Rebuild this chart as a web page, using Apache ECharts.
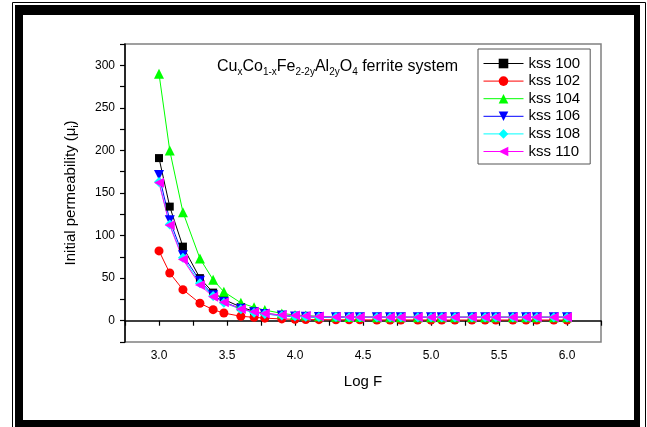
<!DOCTYPE html>
<html><head><meta charset="utf-8">
<script src="https://cdn.jsdelivr.net/npm/echarts@6/dist/echarts.min.js"></script>
<style>html,body{margin:0;padding:0;background:#fff}#c{width:647px;height:427px}</style>
</head><body><div id="c"></div>
<script>
var logF = [3.000, 3.079, 3.176, 3.301, 3.398, 3.477, 3.602, 3.699, 3.778, 3.903,
            4.000, 4.079, 4.176, 4.301, 4.398, 4.477, 4.602, 4.699, 4.778, 4.903,
            5.000, 5.079, 5.176, 5.301, 5.398, 5.477, 5.602, 5.699, 5.778, 5.903, 6.000];
var kss100 = [191, 134, 87, 50, 33, 25, 16, 11, 8.5, 6.5, 5.2, 4.8, 4.5, 4.3, 4.2, 4.1, 4.1, 4.0, 4.0, 4.0, 4.0, 4.0, 4.0, 4.0, 4.0, 4.0, 4.0, 4.0, 4.0, 4.0, 4.0];
var kss102 = [82, 56, 36.5, 20.5, 13, 9, 5.2, 4, 3, 2.1, 1.6, 1.4, 1.2, 1.1, 1.0, 1.0, 0.9, 0.9, 0.9, 0.9, 0.8, 0.8, 0.8, 0.8, 0.8, 0.8, 0.8, 0.8, 0.8, 0.8, 0.8];
var kss104 = [290, 200, 127.5, 73, 48, 34, 21, 15.7, 12.5, 8.6, 6.7, 6, 5.2, 4.6, 4.4, 4.3, 4.2, 4.1, 4.1, 4.0, 4.0, 4.0, 4.0, 4.0, 4.0, 4.0, 4.0, 4.0, 4.0, 4.0, 4.0];
var kss106 = [171, 118, 77, 47, 30, 22, 14, 10, 8, 6, 5, 4.6, 4.4, 4.2, 4.1, 4.0, 4.0, 4.0, 4.0, 4.0, 4.0, 4.0, 4.0, 4.0, 4.0, 4.0, 4.0, 4.0, 4.0, 4.0, 4.0];
var kss108 = [163, 113, 74, 44, 29, 21, 13.5, 9.5, 7.8, 6.2, 5.3, 4.8, 4.5, 4.3, 4.2, 4.1, 4.0, 4.0, 4.0, 4.0, 4.0, 4.0, 4.0, 4.0, 4.0, 4.0, 4.0, 4.0, 4.0, 4.0, 4.0];
var kss110 = [162, 112, 72, 42, 28, 21.6, 13.7, 10.6, 8.6, 6.7, 6, 5.5, 5, 4.4, 4.3, 4.2, 4.2, 4.1, 4.1, 4.1, 4.1, 4.1, 4.1, 4.1, 4.1, 4.1, 4.1, 4.1, 4.1, 4.1, 4.1];
var seriesNames = ['kss 100', 'kss 102', 'kss 104', 'kss 106', 'kss 108', 'kss 110'];
var xTickLabels = [3.0, 3.5, 4.0, 4.5, 5.0, 5.5, 6.0];
var yTickLabels = [0, 50, 100, 150, 200, 250, 300];

var allData = [kss100, kss102, kss104, kss106, kss108, kss110];
var colors = ['#000000', '#ff0000', '#00ff00', '#0000ff', '#00ffff', '#ff00ff'];
var symbols = ['rect', 'circle', 'triangle', 'triangle', 'diamond', 'triangle'];
var rotates = [0, 0, 0, 180, 0, 90];
var sizes = [8, 9, 10, 10, 10, 10];
var FONT = 'Liberation Sans, Arial, sans-serif';

function pairs(ys) { return logF.map(function (x, i) { return [x, ys[i]]; }); }

var series = allData.map(function (d, i) {
  return {
    name: seriesNames[i], type: 'line', data: pairs(d),
    symbol: symbols[i], symbolRotate: rotates[i], symbolSize: sizes[i],
    showAllSymbol: true,
    lineStyle: { color: colors[i], width: 1 },
    itemStyle: { color: colors[i] },
    emphasis: { disabled: true }, animation: false
  };
});

var chart = echarts.init(document.getElementById('c'), null, { renderer: 'canvas' });
chart.setOption({
  backgroundColor: '#ffffff',
  animation: false,
  color: colors,
  grid: { left: 125, top: 44, right: 46, bottom: 85, show: true, borderColor: '#808080', borderWidth: 1.5, backgroundColor: 'transparent' },
  xAxis: {
    type: 'value', min: 2.75, max: 6.25, interval: 0.25,
    name: 'Log F', nameLocation: 'middle', nameGap: 32,
    nameTextStyle: { fontFamily: FONT, fontSize: 15, color: '#000' },
    axisLine: { lineStyle: { color: '#000', width: 1.5 } },
    axisTick: { show: true, inside: false, length: 5, lineStyle: { color: '#000', width: 1.2 } },
    axisLabel: { customValues: xTickLabels, formatter: function (v) { return v.toFixed(1); }, fontFamily: FONT, fontSize: 12, color: '#000', margin: 8 },
    splitLine: { show: false }
  },
  yAxis: {
    type: 'value', min: -25, max: 325, interval: 25,
    name: '{a|Initial permeability (μ}{s|i}{a|)}', nameLocation: 'middle', nameGap: 45,
    nameTextStyle: { fontFamily: FONT, color: '#000',
      rich: { a: { fontFamily: FONT, fontSize: 15, color: '#000', lineHeight: 18 },
              s: { fontFamily: FONT, fontSize: 9, color: '#000', lineHeight: 18, verticalAlign: 'bottom', padding: [6, 0, 0, 0] } } },
    axisLine: { lineStyle: { color: '#000', width: 1.5 } },
    axisTick: { show: true, inside: false, length: 5, lineStyle: { color: '#000', width: 1.2 } },
    axisLabel: { customValues: yTickLabels, fontFamily: FONT, fontSize: 12, color: '#000', margin: 10 },
    splitLine: { show: false }
  },
  legend: {
    show: true, orient: 'vertical', left: 478, top: 49,
    padding: [7, 10, 5, 5], itemWidth: 40, itemHeight: 12, itemGap: 2.6,
    borderColor: '#555', borderWidth: 1, backgroundColor: '#fff',
    lineStyle: { width: 1 },
    textStyle: { fontFamily: FONT, fontSize: 15, color: '#000' },
    data: seriesNames
  },
  title: {
    left: 212, top: 52,
    text: '{a|Cu}{s|x}{a|Co}{s|1-x}{a|Fe}{s|2-2y}{a|Al}{s|2y}{a|O}{s|4}{a| ferrite system}',
    textStyle: { fontWeight: 'normal', rich: {
      a: { fontFamily: FONT, fontSize: 16, fontWeight: 'normal', color: '#000', lineHeight: 20, verticalAlign: 'middle' },
      s: { fontFamily: FONT, fontSize: 10, fontWeight: 'normal', color: '#000', lineHeight: 20, verticalAlign: 'bottom', padding: [8, 0, 0, 0] }
    } }
  },
  graphic: [
    { type: 'rect', silent: true, z: 100, shape: { x: 12.5, y: 2.5, width: 633, height: 430 }, style: { fill: null, stroke: '#000', lineWidth: 1 } },
    { type: 'rect', silent: true, z: 100, shape: { x: 15, y: 5, width: 625, height: 10 }, style: { fill: '#000' } },
    { type: 'rect', silent: true, z: 100, shape: { x: 15, y: 5, width: 8, height: 422 }, style: { fill: '#000' } },
    { type: 'rect', silent: true, z: 100, shape: { x: 634, y: 5, width: 6, height: 422 }, style: { fill: '#000' } },
    { type: 'rect', silent: true, z: 100, shape: { x: 15, y: 420, width: 625, height: 7 }, style: { fill: '#000' } }
  ],
  series: series
});
</script></body></html>
